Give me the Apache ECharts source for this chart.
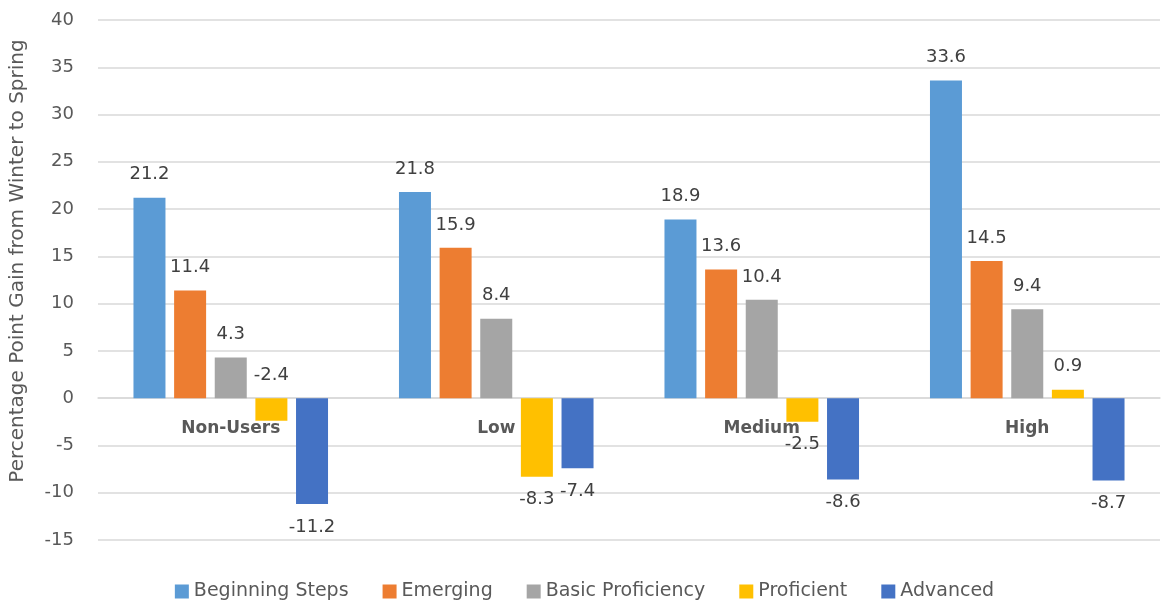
<!DOCTYPE html>
<html>
<head>
<meta charset="utf-8">
<script src="https://cdn.jsdelivr.net/npm/echarts@6/dist/echarts.min.js"></script>
<style>
  html, body { margin: 0; padding: 0; background: #fff; }
  #chart { width: 1169px; height: 603px; }
</style>
</head>
<body>
<div id="chart"></div>
<script>
const categories = ['Non-Users', 'Low', 'Medium', 'High'];
const seriesNames = ['Beginning Steps', 'Emerging', 'Basic Proficiency', 'Proficient', 'Advanced'];
const beginningSteps = [21.2, 21.8, 18.9, 33.6];
const emerging = [11.4, 15.9, 13.6, 14.5];
const basicProficiency = [4.3, 8.4, 10.4, 9.4];
const proficient = [-2.4, -8.3, -2.5, 0.9];
const advanced = [-11.2, -7.4, -8.6, -8.7];
const yTicks = { min: -15, max: 40, interval: 5 };

const colors = ['#5B9BD5', '#ED7D31', '#A5A5A5', '#FFC000', '#4472C4'];
const allValues = [beginningSteps, emerging, basicProficiency, proficient, advanced];
const font = '"DejaVu Sans", sans-serif';

const gridTop = 20, gridBottom = 63;
const plotHeight = 603 - gridTop - gridBottom;
// category axis sits on the zero line, so shift it up from the grid bottom
const zeroOffset = -plotHeight * (0 - yTicks.min) / (yTicks.max - yTicks.min);

// negative labels go under the bar, except the Non-Users proficient one which sits above zero
function makeData(values, seriesIdx) {
  return values.map((v, i) => {
    let pos = v >= 0 ? 'top' : 'bottom';
    if (seriesIdx === 3 && i === 0) pos = 'top';
    return { value: v, label: { position: pos } };
  });
}

const chart = echarts.init(document.getElementById('chart'));

chart.setOption({
  animation: false,
  color: colors,
  grid: { left: 97, right: 9, top: gridTop, bottom: gridBottom },
  legend: {
    bottom: 2,
    left: 'center',
    padding: 0,
    itemWidth: 14,
    itemHeight: 14,
    itemGap: 34,
    icon: 'rect',
    textStyle: { fontFamily: font, fontSize: 19, color: '#595959' },
    data: seriesNames
  },
  xAxis: {
    type: 'category',
    data: categories,
    position: 'bottom',
    offset: zeroOffset,
    axisTick: { show: false },
    axisLine: { onZero: false, lineStyle: { color: '#D9D9D9', width: 1.5 } },
    axisLabel: {
      margin: 22,
      fontFamily: font,
      fontSize: 17,
      fontWeight: 'bold',
      color: '#595959'
    }
  },
  yAxis: {
    type: 'value',
    min: yTicks.min,
    max: yTicks.max,
    interval: yTicks.interval,
    name: 'Percentage Point Gain from Winter to Spring',
    nameLocation: 'middle',
    nameGap: 70,
    nameTextStyle: { fontFamily: font, fontSize: 20, color: '#595959', padding: [0, 0, 0, 38] },
    axisLine: { show: false },
    axisTick: { show: false },
    axisLabel: { margin: 24, fontFamily: font, fontSize: 18, color: '#595959' },
    splitLine: { lineStyle: { color: '#D9D9D9', width: 1.5 } }
  },
  series: allValues.map((vals, idx) => ({
    name: seriesNames[idx],
    type: 'bar',
    barWidth: 32,
    barGap: '27%',
    data: makeData(vals, idx),
    label: {
      show: true,
      distance: 14,
      fontFamily: font,
      fontSize: 18,
      color: '#404040',
      formatter: p => p.value.toFixed(1)
    }
  }))
});
</script>
</body>
</html>
